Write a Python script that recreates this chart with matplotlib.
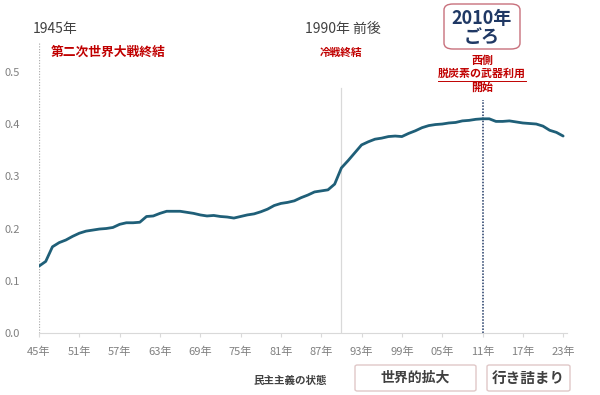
import numpy as np
import matplotlib
matplotlib.use("Agg")
import matplotlib.pyplot as plt
from matplotlib.patches import FancyBboxPatch

plt.rcParams['font.family'] = ['Noto Sans CJK JP', 'DejaVu Sans']

# ---------------------------------------------
# データ
# ---------------------------------------------
years = list(range(1945, 2024))
index_vals = [
    0.128, 0.137, 0.165, 0.173, 0.178, 0.185, 0.191, 0.195, 0.197, 0.199,  # 1945-54
    0.200, 0.202, 0.208, 0.211, 0.211, 0.212, 0.223, 0.224, 0.229, 0.233,  # 1955-64
    0.233, 0.233, 0.231, 0.229, 0.226, 0.224, 0.225, 0.223, 0.222, 0.220,  # 1965-74
    0.223, 0.226, 0.228, 0.232, 0.237, 0.244, 0.248, 0.250, 0.253, 0.259,  # 1975-84
    0.264, 0.270, 0.272, 0.274, 0.285, 0.316, 0.330, 0.345, 0.360, 0.366,  # 1985-94
    0.371, 0.373, 0.376, 0.377, 0.376, 0.382, 0.387, 0.393, 0.397, 0.399,  # 1995-04
    0.400, 0.402, 0.403, 0.406, 0.407, 0.409, 0.410, 0.410, 0.405, 0.405,  # 2005-14
    0.406, 0.404, 0.402, 0.401, 0.400, 0.396, 0.388, 0.384, 0.377,         # 2015-23
]
tick_years = list(range(1945, 2024, 6))
tick_labels = ["%02d年" % (y % 100) for y in tick_years]
y_ticks = [0.0, 0.1, 0.2, 0.3, 0.4, 0.5]

RED = "#c00000"
NAVY = "#1f3864"
LINE = "#1f5f78"
GRAY = "#808080"

# ---------------------------------------------
# グラフ作成
# ---------------------------------------------
fig = plt.figure(figsize=(6.0, 3.95), dpi=100)
ax = fig.add_axes([39 / 600, (395 - 333) / 395, (566.5 - 39) / 600, (333 - 42) / 395])

ax.plot(years, index_vals, color=LINE, lw=2.0, solid_capstyle="round", zorder=3)

ax.set_xlim(1945, 2023.5)
ax.set_ylim(0, 0.557)

# 縦線
ax.plot([1945, 1945], [0, 0.557], color="#b0b0b0", lw=0.9, ls=(0, (1, 1.2)), zorder=1)
ax.plot([1990, 1990], [0, 0.469], color="#d9d9d9", lw=0.9, zorder=1)
ax.plot([2011, 2011], [0, 0.446], color=NAVY, lw=1.1, ls=(0, (1, 1)), zorder=2)

for s in ["top", "right", "left"]:
    ax.spines[s].set_visible(False)
ax.spines["bottom"].set_color("#d9d9d9")

ax.set_xticks(tick_years)
ax.set_xticklabels(tick_labels)
ax.set_yticks(y_ticks)
ax.set_yticklabels(["%.1f" % v for v in y_ticks])
ax.tick_params(axis="x", colors="#d9d9d9", labelcolor=GRAY, labelsize=8, length=3, pad=7)
ax.tick_params(axis="y", length=0, labelcolor=GRAY, labelsize=8, pad=14)

# 注記テキスト
fig.text(33 / 600, 1 - 29 / 395, "1945年", fontsize=10, color="#404040", va="center", ha="left")
fig.text(51 / 600, 1 - 52 / 395, "第二次世界大戦終結", fontsize=9.2, color=RED,
         fontweight="bold", va="center", ha="left")
fig.text(305 / 600, 1 - 29 / 395, "1990年 前後", fontsize=10, color="#404040", va="center", ha="left")
fig.text(320 / 600, 1 - 53 / 395, "冷戦終結", fontsize=7.7, color=RED,
         fontweight="bold", va="center", ha="left")

box = FancyBboxPatch((444 / 600, 1 - 49 / 395), 76 / 600, 45 / 395,
                     boxstyle="round,pad=0,rounding_size=0.015",
                     transform=fig.transFigure, fc="white", ec="#c8707c", lw=1.0)
fig.patches.append(box)
fig.text(482 / 600, 1 - 19 / 395, "2010年", fontsize=13, color=NAVY,
         fontweight="bold", va="center", ha="center")
fig.text(482 / 600, 1 - 38 / 395, "ごろ", fontsize=13, color=NAVY,
         fontweight="bold", va="center", ha="center")

fig.text(482 / 600, 1 - 61 / 395, "西側", fontsize=7.9, color=RED,
         fontweight="bold", va="center", ha="center")
fig.text(482 / 600, 1 - 74 / 395, "脱炭素の武器利用", fontsize=7.9, color=RED,
         fontweight="bold", va="center", ha="center")
fig.add_artist(plt.Line2D([438 / 600, 526 / 600], [1 - 80.5 / 395, 1 - 80.5 / 395],
                          color=RED, lw=0.7))
fig.text(482 / 600, 1 - 88 / 395, "開始", fontsize=7.9, color=RED,
         fontweight="bold", va="center", ha="center")

# 民主主義の状態
fig.text(290 / 600, 1 - 381 / 395, "民主主義の状態", fontsize=7.6, color="#404040",
         fontweight="bold", va="center", ha="center")
for x0, x1, fs, label in [(355, 476, 10, "世界的拡大"), (487, 570, 10.5, "行き詰まり")]:
    b = FancyBboxPatch((x0 / 600, 1 - 391 / 395), (x1 - x0) / 600, 26 / 395,
                       boxstyle="round,pad=0,rounding_size=0.004",
                       transform=fig.transFigure, fc="white", ec="#e0c8c8", lw=1.0)
    fig.patches.append(b)
    fig.text((x0 + x1) / 2 / 600, 1 - 378 / 395, label, fontsize=fs, color="#404040",
             fontweight="bold", va="center", ha="center")

fig.savefig("out.png", dpi=100, facecolor="white")
